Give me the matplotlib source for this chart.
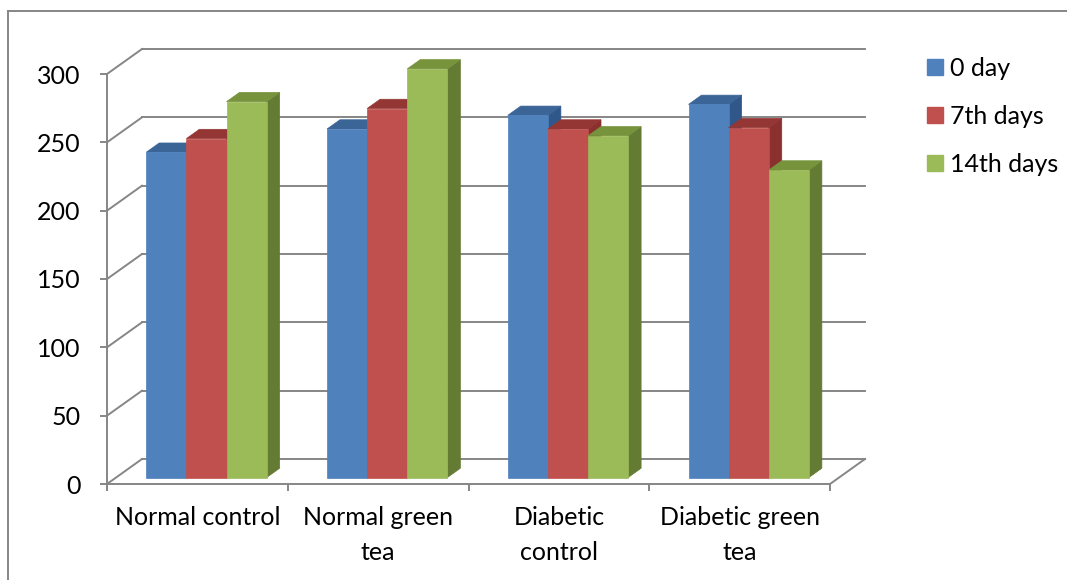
import numpy as np
import matplotlib
matplotlib.use("Agg")
import matplotlib.pyplot as plt
from matplotlib.patches import Polygon, Patch
from matplotlib.lines import Line2D
from matplotlib.transforms import IdentityTransform

plt.rcParams['font.family'] = ['Lato', 'DejaVu Sans']

groups = ["Normal control", "Normal green\ntea", "Diabetic\ncontrol", "Diabetic green\ntea"]
series = ["0 day", "7th days", "14th days"]
day0 = [238, 255, 265, 273]
day7 = [248, 270, 255, 256]
day14 = [275, 299, 250, 225]
yticks = [0, 50, 100, 150, 200, 250, 300]

front_cols = ["#4F81BD", "#C0504D", "#9BBB59"]
top_cols = ["#3B6597", "#943634", "#77933C"]
side_cols = ["#30578A", "#8A302E", "#637B33"]
grid_col = "#868686"

W, H = 1067, 580
DX, DY = 35, 25          # full floor depth, in pixels
F0, F1 = 0.26, 0.63      # front/back depth of the bars (fraction of floor)
BAR_W = 0.222
FS = 18

fig = plt.figure(figsize=(W / 100, H / 100), dpi=100)
ax = fig.add_axes([107 / W, 1 - 484 / H, (830 - 107) / W, (484 - 74) / H])
ax.set_xlim(0, len(groups))
ax.set_ylim(0, 300)
ax.patch.set_visible(False)
for s in ["top", "right"]:
    ax.spines[s].set_visible(False)
for s in ["left", "bottom"]:
    ax.spines[s].set_color(grid_col)
    ax.spines[s].set_linewidth(1.4)

ax.set_yticks(yticks)
ax.tick_params(axis='y', length=5, width=1.4, color=grid_col, pad=14, labelsize=FS)
ax.set_xticks(np.arange(len(groups) + 1))
ax.set_xticklabels([])
ax.set_xticks(np.arange(len(groups)) + 0.5, minor=True)
ax.set_xticklabels(groups, minor=True, fontsize=FS, linespacing=1.6)
ax.tick_params(axis='x', which='major', length=5, width=1.4, color=grid_col)
ax.tick_params(axis='x', which='minor', length=0, pad=16)


def proj(x, v, f):
    # data point pushed back into the chart by depth fraction f
    px, py = ax.transData.transform((x, v))
    return (px + f * DX, py + f * DY)


def seg(p, q, z=1):
    ax.add_line(Line2D([p[0], q[0]], [p[1], q[1]], color=grid_col, lw=1.4,
                       transform=IdentityTransform(), clip_on=False, zorder=z))


# back wall, left wall and floor
n = len(groups)
for v in yticks:
    seg(proj(0, v, 1), proj(n, v, 1))
    seg(proj(0, v, 0), proj(0, v, 1))
seg(proj(n, 0, 0), proj(n, 0, 1))

# 3D bars, left to right so neighbours hide the side faces
values = [day0, day7, day14]
z = 3
for i in range(n):
    for j, vals in enumerate(values):
        xl = i + 0.5 + (j - 1.5) * BAR_W
        xr = xl + BAR_W
        h = vals[i]
        side = [proj(xr, 0, F0), proj(xr, 0, F1), proj(xr, h, F1), proj(xr, h, F0)]
        top = [proj(xl, h, F0), proj(xr, h, F0), proj(xr, h, F1), proj(xl, h, F1)]
        front = [proj(xl, 0, F0), proj(xr, 0, F0), proj(xr, h, F0), proj(xl, h, F0)]
        for pts, col in [(side, side_cols[j]), (top, top_cols[j]), (front, front_cols[j])]:
            ax.add_patch(Polygon(pts, closed=True, facecolor=col, edgecolor=col, lw=0.5,
                                 transform=IdentityTransform(), clip_on=False, zorder=z))
        z += 1

handles = [Patch(facecolor=c, edgecolor=c, label=s) for s, c in zip(series, front_cols)]
ax.legend(handles=handles, loc='upper left', bbox_to_anchor=(927 / W, 1 - 57 / H),
          bbox_transform=fig.transFigure, frameon=False, borderpad=0, borderaxespad=0,
          handlelength=0.62, handleheight=0.62, handletextpad=0.3, labelspacing=1.0,
          fontsize=FS)

# chart frame
fig.add_artist(Line2D([8 / W, 8 / W], [0, 1 - 11 / H], color=grid_col, lw=1.4,
                      transform=fig.transFigure))
fig.add_artist(Line2D([8 / W, 1], [1 - 11 / H, 1 - 11 / H], color=grid_col, lw=1.4,
                      transform=fig.transFigure))

fig.savefig("out.png", dpi=100)
